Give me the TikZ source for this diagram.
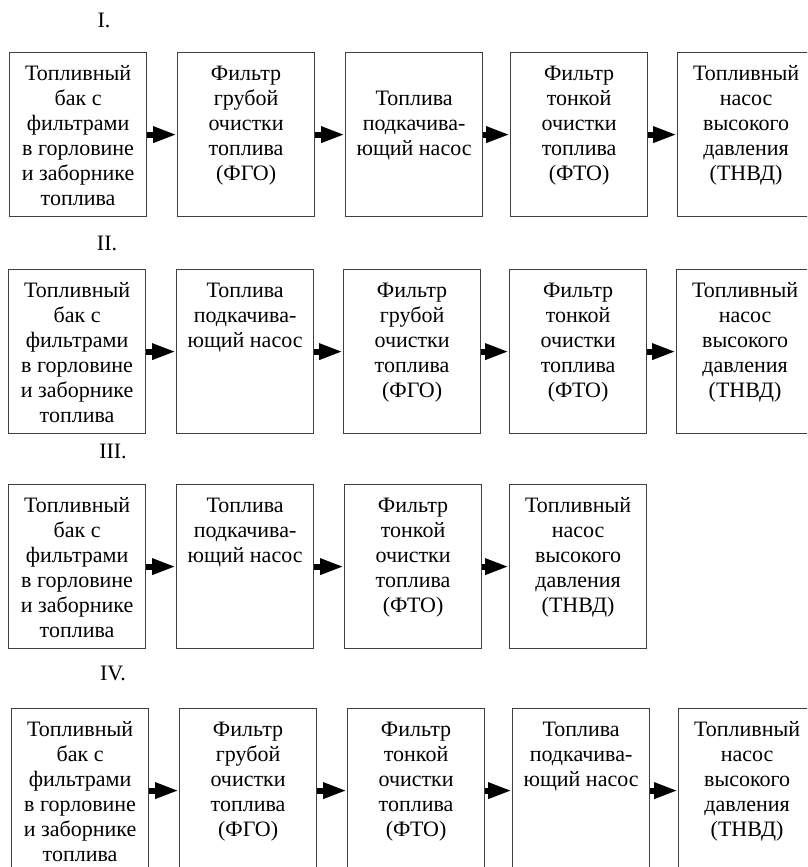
\documentclass[tikz,border=0pt]{standalone}
\usepackage{fontspec}
\setmainfont{Liberation Serif}
\usetikzlibrary{arrows.meta}

% text of one unit, set from the top of its box
\newcommand\boxtext[2][10.5pt]{\parbox[c][164pt][t]{137pt}{\centering\vspace*{#1}\strut #2}}

\begin{document}
\begin{tikzpicture}[
    x=1pt,
    y=-1pt,
    unit/.style={rectangle, draw=black!75, line width=1.2pt, inner sep=0pt, minimum width=137pt, minimum height=164pt, anchor=north west, font=\fontsize{22}{25}\selectfont},
    flow/.style={-{Triangle[length=24pt,width=15pt]}, line width=6pt},
    rowlabel/.style={anchor=base, font=\fontsize{22}{25}\selectfont}
]
\path[use as bounding box] (0,0) rectangle (807,867);
\clip (0,0) rectangle (807,867);

% Scheme I
\node[rowlabel] (lab1) at (104,28) {I.};
\node[unit] (tank1) at (9,52) {\boxtext{Топливный\\бак с\\фильтрами\\в горловине\\и заборнике\\топлива}};
\node[unit] (fgo1) at (177,52) {\boxtext{Фильтр\\грубой\\очистки\\топлива\\(ФГО)}};
\node[unit] (pump1) at (345,52) {\boxtext[35.5pt]{Топлива\\подкачива-\\ющий насос}};
\node[unit] (fto1) at (510,52) {\boxtext{Фильтр\\тонкой\\очистки\\топлива\\(ФТО)}};
\node[unit] (tnvd1) at (677,52) {\boxtext{Топливный\\насос\\высокого\\давления\\(ТНВД)}};
\draw[flow] (tank1.east) -- (fgo1.west);
\draw[flow] (fgo1.east) -- (pump1.west);
\draw[flow] (pump1.east) -- (fto1.west);
\draw[flow] (fto1.east) -- (tnvd1.west);

% Scheme II
\node[rowlabel] (lab2) at (107,250) {II.};
\node[unit] (tank2) at (8,269) {\boxtext{Топливный\\бак с\\фильтрами\\в горловине\\и заборнике\\топлива}};
\node[unit] (pump2) at (176,269) {\boxtext{Топлива\\подкачива-\\ющий насос}};
\node[unit] (fgo2) at (343,269) {\boxtext{Фильтр\\грубой\\очистки\\топлива\\(ФГО)}};
\node[unit] (fto2) at (509,269) {\boxtext{Фильтр\\тонкой\\очистки\\топлива\\(ФТО)}};
\node[unit] (tnvd2) at (676,269) {\boxtext{Топливный\\насос\\высокого\\давления\\(ТНВД)}};
\draw[flow] (tank2.east) -- (pump2.west);
\draw[flow] (pump2.east) -- (fgo2.west);
\draw[flow] (fgo2.east) -- (fto2.west);
\draw[flow] (fto2.east) -- (tnvd2.west);

% Scheme III
\node[rowlabel] (lab3) at (113,458) {III.};
\node[unit] (tank3) at (8,484) {\boxtext{Топливный\\бак с\\фильтрами\\в горловине\\и заборнике\\топлива}};
\node[unit] (pump3) at (176,484) {\boxtext{Топлива\\подкачива-\\ющий насос}};
\node[unit] (fto3) at (344,484) {\boxtext{Фильтр\\тонкой\\очистки\\топлива\\(ФТО)}};
\node[unit] (tnvd3) at (509,484) {\boxtext{Топливный\\насос\\высокого\\давления\\(ТНВД)}};
\draw[flow] (tank3.east) -- (pump3.west);
\draw[flow] (pump3.east) -- (fto3.west);
\draw[flow] (fto3.east) -- (tnvd3.west);

% Scheme IV
\node[rowlabel] (lab4) at (113,680) {IV.};
\node[unit] (tank4) at (11,708) {\boxtext{Топливный\\бак с\\фильтрами\\в горловине\\и заборнике\\топлива}};
\node[unit] (fgo4) at (179,708) {\boxtext{Фильтр\\грубой\\очистки\\топлива\\(ФГО)}};
\node[unit] (fto4) at (347,708) {\boxtext{Фильтр\\тонкой\\очистки\\топлива\\(ФТО)}};
\node[unit] (pump4) at (512,708) {\boxtext{Топлива\\подкачива-\\ющий насос}};
\node[unit] (tnvd4) at (678,708) {\boxtext{Топливный\\насос\\высокого\\давления\\(ТНВД)}};
\draw[flow] (tank4.east) -- (fgo4.west);
\draw[flow] (fgo4.east) -- (fto4.west);
\draw[flow] (fto4.east) -- (pump4.west);
\draw[flow] (pump4.east) -- (tnvd4.west);

\end{tikzpicture}
\end{document}
